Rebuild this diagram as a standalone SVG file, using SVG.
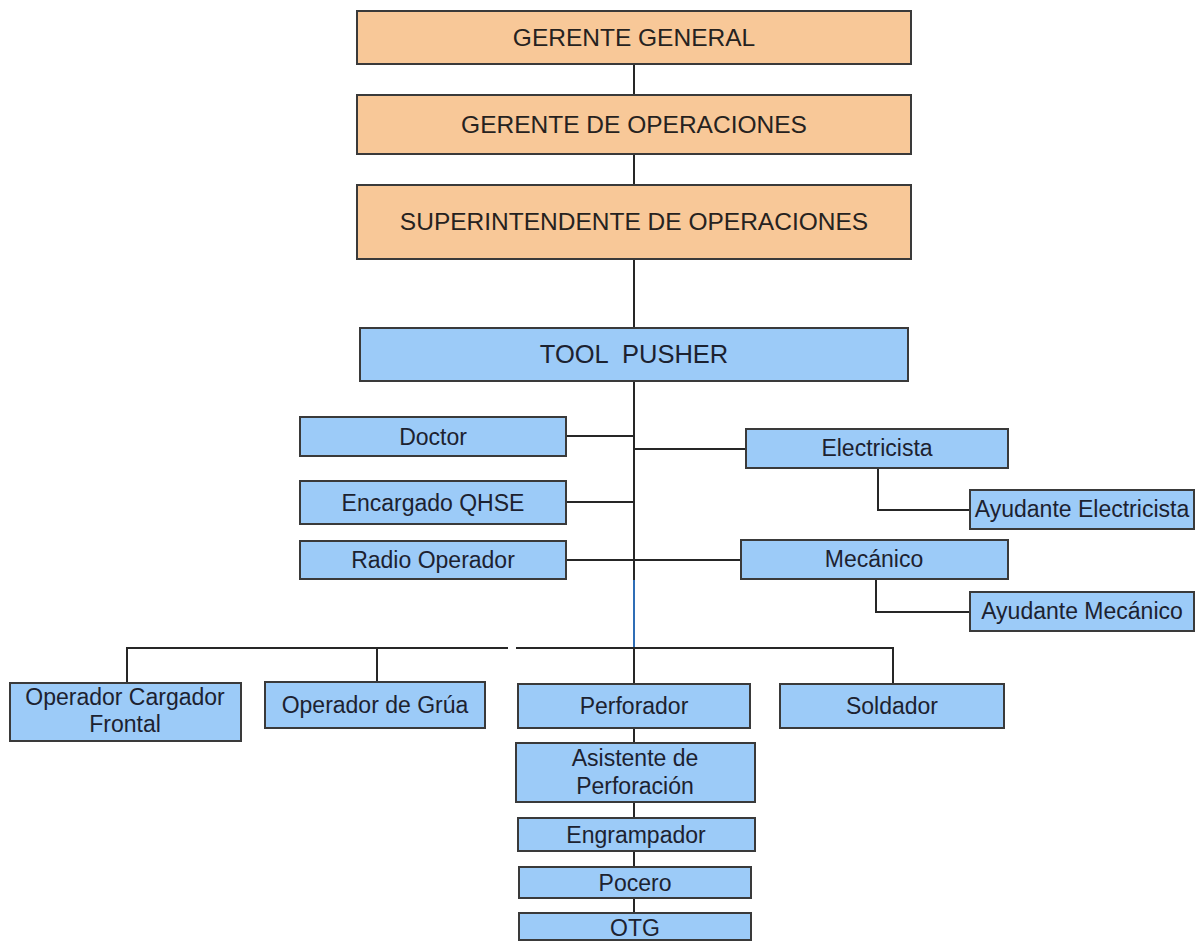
<svg xmlns="http://www.w3.org/2000/svg" width="1197" height="942" viewBox="0 0 1197 942">
  <style>
    .mgr rect { fill: #F8C898; stroke: #3a3a3a; stroke-width: 2; }
    .staff rect { fill: #9CCBF8; stroke: #3a3a3a; stroke-width: 2; }
    text { font-family: "Liberation Sans", Arial, sans-serif; fill: #1c2230; text-anchor: middle; }
    .mgr text { font-size: 24.5px; fill: #262220; }
    .staff text { font-size: 23px; }
    #links line, #links polyline { stroke: #262626; stroke-width: 2; fill: none; }
    #links .blue { stroke: #2f6db5; }
  </style>
  <rect width="1197" height="942" fill="#ffffff"/>

  <!-- reporting lines -->
  <g id="links">
    <line x1="634" y1="64" x2="634" y2="95"/>
    <line x1="634" y1="154" x2="634" y2="185"/>
    <line x1="634" y1="259" x2="634" y2="328"/>
    <line x1="634" y1="381" x2="634" y2="580"/>
    <line class="blue" x1="634" y1="580" x2="634" y2="648"/>
    <line x1="566" y1="436" x2="634" y2="436"/>
    <line x1="566" y1="502" x2="634" y2="502"/>
    <line x1="566" y1="560" x2="741" y2="560"/>
    <line x1="634" y1="449" x2="746" y2="449"/>
    <polyline points="878,468 878,510 970,510"/>
    <polyline points="876,579 876,612 970,612"/>
    <polyline points="127,683 127,648 508,648"/>
    <polyline points="516,648 893,648 893,684"/>
    <line x1="377" y1="648" x2="377" y2="682"/>
    <line x1="634" y1="648" x2="634" y2="684"/>
    <line x1="634" y1="728" x2="634" y2="743"/>
    <line x1="634" y1="802" x2="634" y2="818"/>
    <line x1="634" y1="851" x2="634" y2="867"/>
    <line x1="634" y1="898" x2="634" y2="913"/>
  </g>

  <!-- management -->
  <g id="gerente-general" class="mgr">
    <rect x="357" y="11" width="554" height="53"/>
    <text x="634" y="46">GERENTE GENERAL</text>
  </g>
  <g id="gerente-operaciones" class="mgr">
    <rect x="357" y="95" width="554" height="59"/>
    <text x="634" y="133">GERENTE DE OPERACIONES</text>
  </g>
  <g id="superintendente" class="mgr">
    <rect x="357" y="185" width="554" height="74"/>
    <text x="634" y="230">SUPERINTENDENTE DE OPERACIONES</text>
  </g>

  <!-- rig staff -->
  <g id="tool-pusher" class="staff">
    <rect x="360" y="328" width="548" height="53"/>
    <text x="634" y="363" style="font-size:25.5px" xml:space="preserve">TOOL  PUSHER</text>
  </g>
  <g id="doctor" class="staff">
    <rect x="300" y="417" width="266" height="39"/>
    <text x="433" y="445">Doctor</text>
  </g>
  <g id="encargado-qhse" class="staff">
    <rect x="300" y="481" width="266" height="43"/>
    <text x="433" y="511">Encargado QHSE</text>
  </g>
  <g id="radio-operador" class="staff">
    <rect x="300" y="541" width="266" height="38"/>
    <text x="433" y="568">Radio Operador</text>
  </g>
  <g id="electricista" class="staff">
    <rect x="746" y="429" width="262" height="39"/>
    <text x="877" y="456">Electricista</text>
  </g>
  <g id="ayudante-electricista" class="staff">
    <rect x="970" y="490" width="224" height="39"/>
    <text x="1082" y="517">Ayudante Electricista</text>
  </g>
  <g id="mecanico" class="staff">
    <rect x="741" y="540" width="267" height="39"/>
    <text x="874" y="567">Mecánico</text>
  </g>
  <g id="ayudante-mecanico" class="staff">
    <rect x="970" y="592" width="224" height="39"/>
    <text x="1082" y="619">Ayudante Mecánico</text>
  </g>
  <g id="operador-cargador" class="staff">
    <rect x="10" y="683" width="231" height="58"/>
    <text x="125" y="705">Operador Cargador</text>
    <text x="125" y="732">Frontal</text>
  </g>
  <g id="operador-grua" class="staff">
    <rect x="265" y="682" width="220" height="46"/>
    <text x="375" y="713">Operador de Grúa</text>
  </g>
  <g id="perforador" class="staff">
    <rect x="518" y="684" width="232" height="44"/>
    <text x="634" y="714">Perforador</text>
  </g>
  <g id="soldador" class="staff">
    <rect x="780" y="684" width="224" height="44"/>
    <text x="892" y="714">Soldador</text>
  </g>
  <g id="asistente-perforacion" class="staff">
    <rect x="516" y="743" width="239" height="59"/>
    <text x="635" y="766">Asistente de</text>
    <text x="635" y="794">Perforación</text>
  </g>
  <g id="engrampador" class="staff">
    <rect x="518" y="818" width="237" height="33"/>
    <text x="636" y="843">Engrampador</text>
  </g>
  <g id="pocero" class="staff">
    <rect x="519" y="867" width="232" height="31"/>
    <text x="635" y="891">Pocero</text>
  </g>
  <g id="otg" class="staff">
    <rect x="519" y="913" width="232" height="27"/>
    <text x="635" y="936">OTG</text>
  </g>
</svg>
